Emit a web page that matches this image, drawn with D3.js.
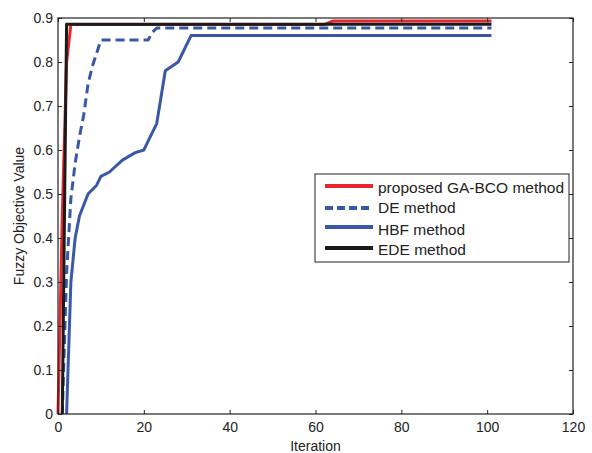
<!DOCTYPE html>
<html>
<head>
<meta charset="utf-8">
<script src="https://cdn.jsdelivr.net/npm/d3@7"></script>
<style>
  body { margin: 0; background: #fff; }
  svg text { font-family: "Liberation Sans", Arial, sans-serif; fill: #222; }
</style>
</head>
<body>
<div id="chart"></div>
<script>
// series (iteration, fuzzy objective value)
var gaX = [0, 1, 2, 3, 62, 64, 101];
var gaY = [0, 0.45, 0.8, 0.885, 0.885, 0.893, 0.893];

var deX = [1, 2, 3, 4, 5, 6, 7, 8, 9, 10, 21, 22, 23, 101];
var deY = [0, 0.32, 0.49, 0.57, 0.63, 0.68, 0.75, 0.79, 0.82, 0.85, 0.85, 0.868, 0.877, 0.877];

var hbfX = [2, 3, 4, 5, 7, 9, 10, 12, 15, 18, 20, 21, 23, 24, 25, 28, 31, 101];
var hbfY = [0, 0.3, 0.4, 0.45, 0.5, 0.52, 0.54, 0.55, 0.577, 0.594, 0.6, 0.62, 0.66, 0.72, 0.78, 0.8, 0.86, 0.86];

var edeX = [1, 2, 101];
var edeY = [0, 0.886, 0.886];

var xTicks = [0, 20, 40, 60, 80, 100, 120];
var yTicks = [0, 0.1, 0.2, 0.3, 0.4, 0.5, 0.6, 0.7, 0.8, 0.9];

var seriesNames = ["proposed GA-BCO method", "DE method", "HBF method", "EDE method"];

var W = 592, H = 453;
var margin = { left: 58, right: 19, top: 18, bottom: 39 };
var iw = W - margin.left - margin.right, ih = H - margin.top - margin.bottom;
var fs = 14;

var svg = d3.select("#chart").append("svg").attr("width", W).attr("height", H);
var g = svg.append("g").attr("transform", `translate(${margin.left},${margin.top})`);

var x = d3.scaleLinear().domain([0, 120]).range([0, iw]);
var y = d3.scaleLinear().domain([0, 0.9]).range([ih, 0]);

var blue = "#3a58a8";
var series = [
  { name: seriesNames[0], xs: gaX, ys: gaY, color: "#e8262d", dash: null },
  { name: seriesNames[1], xs: deX, ys: deY, color: blue, dash: "9,5" },
  { name: seriesNames[2], xs: hbfX, ys: hbfY, color: blue, dash: null },
  { name: seriesNames[3], xs: edeX, ys: edeY, color: "#1a1a1a", dash: null }
];

var line = d3.line().x(d => x(d[0])).y(d => y(d[1]));

// draw lines (HBF and DE first so red/black sit on top like the original)
[2, 1, 0, 3].forEach(function (i) {
  var s = series[i];
  g.append("path")
    .datum(s.xs.map((v, k) => [v, s.ys[k]]))
    .attr("d", line)
    .attr("fill", "none")
    .attr("stroke", s.color)
    .attr("stroke-width", 3)
    .attr("stroke-linejoin", "round")
    .attr("stroke-dasharray", s.dash);
});

// axes, MATLAB style: ticks inside, box round the plot
var axStyle = function (sel) {
  sel.select(".domain").remove();
  sel.selectAll(".tick line").attr("stroke", "#222");
  sel.selectAll("text").attr("font-size", fs).style("fill", "#222");
};
g.append("g").attr("transform", `translate(0,${ih})`)
  .call(d3.axisBottom(x).tickValues(xTicks).tickSizeInner(-4).tickPadding(8).tickFormat(d3.format("d")))
  .call(axStyle);
g.append("g")
  .call(d3.axisTop(x).tickValues(xTicks).tickSizeInner(-4).tickFormat(""))
  .call(axStyle);
g.append("g")
  .call(d3.axisLeft(y).tickValues(yTicks).tickSizeInner(-4).tickPadding(5).tickFormat(d => d === 0 ? "0" : d3.format(".1f")(d)))
  .call(axStyle);
g.append("g").attr("transform", `translate(${iw},0)`)
  .call(d3.axisRight(y).tickValues(yTicks).tickSizeInner(-4).tickFormat(""))
  .call(axStyle);

g.append("rect").attr("width", iw).attr("height", ih)
  .attr("fill", "none").attr("stroke", "#222").attr("stroke-width", 1.2);

// axis labels
svg.append("text").attr("x", margin.left + iw / 2).attr("y", H - 2)
  .attr("text-anchor", "middle").attr("font-size", fs).text("Iteration");
svg.append("text")
  .attr("transform", `translate(24,${margin.top + ih / 2}) rotate(-90)`)
  .attr("text-anchor", "middle").attr("font-size", fs).text("Fuzzy Objective Value");

// legend
var lg = svg.append("g").attr("transform", "translate(315,174)");
lg.append("rect").attr("width", 254).attr("height", 88)
  .attr("fill", "#fff").attr("stroke", "#222").attr("stroke-width", 1);
var rowY = [12, 34, 53, 74];
var textY = [19, 39, 61, 81];
series.forEach(function (s, i) {
  lg.append("line").attr("x1", 10).attr("x2", 58).attr("y1", rowY[i]).attr("y2", rowY[i])
    .attr("stroke", s.color).attr("stroke-width", 4).attr("stroke-dasharray", s.dash ? "8,4" : null);
  lg.append("text").attr("x", 63).attr("y", textY[i]).attr("font-size", 15.5).text(s.name);
});
</script>
</body>
</html>
